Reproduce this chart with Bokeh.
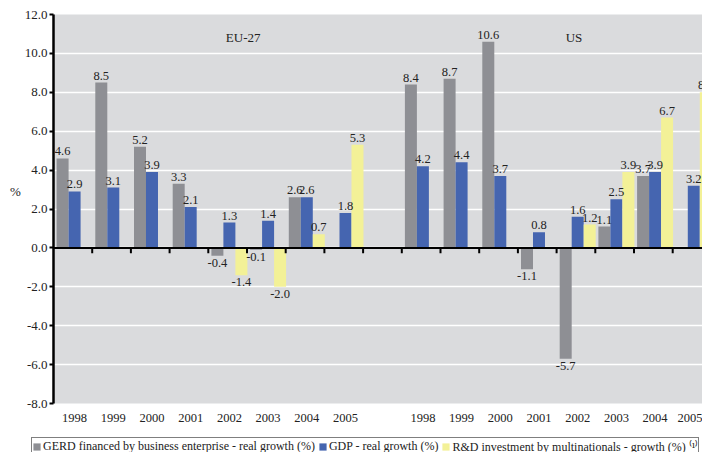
from bokeh.plotting import figure
from bokeh.layouts import column
from bokeh.models import (ColumnDataSource, Range1d, FixedTicker, Span, Label,
                          Legend, LegendItem, PrintfTickFormatter)
from bokeh.embed import file_html
from bokeh.resources import INLINE
from bokeh.core.properties import value

# ---------------- data ----------------
years = ["1998", "1999", "2000", "2001", "2002", "2003", "2004", "2005"]
region_names = ["EU-27", "US"]

eu_gerd = [4.6, 8.5, 5.2, 3.3, -0.4, -0.1, 2.6, None]
eu_gdp = [2.9, 3.1, 3.9, 2.1, 1.3, 1.4, 2.6, 1.8]
eu_mnc = [None, None, None, None, -1.4, -2.0, 0.7, 5.3]

us_gerd = [8.4, 8.7, 10.6, -1.1, -5.7, 1.1, 3.7, None]
us_gdp = [4.2, 4.4, 3.7, 0.8, 1.6, 2.5, 3.9, 3.2]
us_mnc = [None, None, None, None, 1.2, 3.9, 6.7, 8.0]

series_labels = [
    "GERD financed by business enterprise - real growth (%)",
    "GDP - real growth (%)",
    "R&D investment by multinationals - growth (%) \u207d\u00b9\u207e",
]
y_ticks = [-8, -6, -4, -2, 0, 2, 4, 6, 8, 10, 12]

# ---------------- styling ----------------
FONT = "Liberation Serif"
colors = ["#8e8f94", "#4565b0", "#f3f197"]
BG = "#dadbdd"
BAR_W = 0.31
GROUP_SHIFT = 0.545
n = len(years)
slots_eu = list(range(n))
slots_us = [n + 1 + i for i in range(n)]
centers = [round(s + GROUP_SHIFT, 3) for s in slots_eu + slots_us]

p = figure(width=702, height=433, x_range=Range1d(0, 16.77), y_range=Range1d(-8, 12),
           output_backend="svg", toolbar_location=None,
           min_border_left=53, min_border_right=0, min_border_top=14, min_border_bottom=30)
p.background_fill_color = BG
p.border_fill_color = "white"
p.outline_line_color = None

# bars
series = [(eu_gerd, us_gerd), (eu_gdp, us_gdp), (eu_mnc, us_mnc)]
sources = []
pos_lbl = dict(x=[], y=[], t=[])
neg_lbl = dict(x=[], y=[], t=[])
for k, (eu_vals, us_vals) in enumerate(series):
    xs, tops = [], []
    for c, v in zip(centers, eu_vals + us_vals):
        if v is None:
            continue
        x = c + (k - 1) * BAR_W
        xs.append(x)
        tops.append(v)
        d = pos_lbl if v >= 0 else neg_lbl
        d["x"].append(x)
        d["y"].append(v)
        d["t"].append(f"{v:.1f}")
    src = ColumnDataSource(dict(x=xs, top=tops))
    sources.append(src)
    p.vbar(x="x", top="top", bottom=0, width=BAR_W, source=src,
           fill_color=colors[k], line_color=None)

p.text(x="x", y="y", text="t", source=ColumnDataSource(pos_lbl),
       text_font=value(FONT), text_font_size="12.5px", text_color="#222222",
       text_align="center", text_baseline="bottom", y_offset=-3)
p.text(x="x", y="y", text="t", source=ColumnDataSource(neg_lbl),
       text_font=value(FONT), text_font_size="12.5px", text_color="#222222",
       text_align="center", text_baseline="top", y_offset=3)

# zero line and category ticks
p.add_layout(Span(location=0, dimension="width", line_color="black", line_width=2))
bounds = list(range(1, 2 * n + 2))
p.segment(x0=bounds, y0=[0] * len(bounds), x1=bounds, y1=[-0.27] * len(bounds),
          line_color="black", line_width=2)

# region titles
p.add_layout(Label(x=4.9, y=10.8, text=region_names[0], text_font=FONT,
                   text_font_size="13px", text_color="#222222",
                   text_align="center", text_baseline="middle"))
p.add_layout(Label(x=13.45, y=10.8, text=region_names[1], text_font=FONT,
                   text_font_size="13px", text_color="#222222",
                   text_align="center", text_baseline="middle"))

# axes
p.yaxis.ticker = FixedTicker(ticks=y_ticks)
p.yaxis.formatter = PrintfTickFormatter(format="%.1f")
p.yaxis.axis_line_width = 2.5
p.yaxis.axis_line_color = "black"
p.yaxis.major_tick_line_width = 2
p.yaxis.major_tick_out = 4
p.yaxis.major_tick_in = 0
p.yaxis.minor_tick_line_color = None
p.yaxis.major_label_text_font = FONT
p.yaxis.major_label_text_font_size = "13px"
p.yaxis.major_label_text_color = "#222222"
p.yaxis.major_label_standoff = 2
p.yaxis.axis_label = "%\n\n"
p.yaxis.axis_label_text_font = FONT
p.yaxis.axis_label_text_font_style = "normal"
p.yaxis.axis_label_text_font_size = "13px"
p.yaxis.axis_label_text_color = "#222222"
p.yaxis.axis_label_standoff = 1
try:
    p.yaxis.axis_label_orientation = "horizontal"
except Exception:
    pass

p.xaxis.ticker = FixedTicker(ticks=centers)
p.xaxis.major_label_overrides = {c: y for c, y in zip(centers, years + years)}
p.xaxis.axis_line_color = None
p.xaxis.major_tick_line_color = None
p.xaxis.minor_tick_line_color = None
p.xaxis.major_tick_out = 0
p.xaxis.major_tick_in = 0
p.xaxis.major_label_standoff = 10
p.xaxis.major_label_text_font = FONT
p.xaxis.major_label_text_font_size = "12.5px"
p.xaxis.major_label_text_color = "#222222"

p.xgrid.grid_line_color = None
p.ygrid.ticker = FixedTicker(ticks=y_ticks)
p.ygrid.grid_line_color = "white"
p.ygrid.grid_line_width = 1.5

# ---------------- legend strip (cut by the page bottom, as in the source) ----------------
lg = figure(width=702, height=19, x_range=Range1d(0, 16.77), y_range=Range1d(100, 101),
            output_backend="svg", toolbar_location=None,
            x_axis_location=None, y_axis_location=None,
            min_border_left=0, min_border_right=0, min_border_top=0, min_border_bottom=0)
lg.outline_line_color = None
lg.grid.grid_line_color = None
lg.background_fill_color = "white"

legend_x = -22
try:
    p.frame_align = False
    lg.frame_align = False
    legend_x = 31
except Exception:
    pass

swatches = [lg.vbar(x="x", top="top", bottom=0, width=BAR_W, source=s,
                    fill_color=c, line_color=None) for s, c in zip(sources, colors)]
legend = Legend(items=[LegendItem(label=lab, renderers=[r]) for lab, r in zip(series_labels, swatches)],
                orientation="horizontal", location=(legend_x, -4),
                border_line_color="black", border_line_width=1,
                background_fill_color="white", background_fill_alpha=1,
                label_text_font=FONT, label_text_font_size="12px", label_text_color="#222222",
                glyph_width=9, glyph_height=9, label_standoff=2, spacing=3,
                padding=0, margin=0, label_height=12)
lg.add_layout(legend, "center")

layout = column(p, lg, spacing=0)
open("out.html", "w").write(file_html(layout, INLINE))
